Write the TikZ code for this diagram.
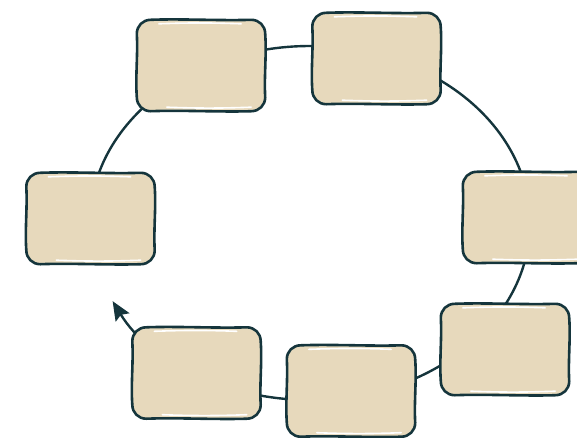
\documentclass[tikz,border=0pt]{standalone}
\usetikzlibrary{arrows.meta}
\definecolor{boxfill}{HTML}{E7D9BC}
\definecolor{ink}{HTML}{15353C}
\newcommand\sketchoutline[1]{%
\draw[outline] ([yshift=-14pt]#1.north west) .. controls ([yshift=-6pt]#1.north west) and ([xshift=6pt]#1.north west) .. ([xshift=14pt]#1.north west)
 .. controls ([xshift=45pt,yshift=1.2pt]#1.north west) and ([xshift=-45pt,yshift=-1pt]#1.north east) .. ([xshift=-14pt]#1.north east)
 .. controls ([xshift=-6pt]#1.north east) and ([yshift=-6pt]#1.north east) .. ([yshift=-14pt]#1.north east)
 .. controls ([xshift=1.5pt,yshift=-35pt]#1.north east) and ([xshift=-1.2pt,yshift=35pt]#1.south east) .. ([yshift=14pt]#1.south east)
 .. controls ([yshift=6pt]#1.south east) and ([xshift=-6pt]#1.south east) .. ([xshift=-14pt]#1.south east)
 .. controls ([xshift=-45pt,yshift=-1pt]#1.south east) and ([xshift=45pt,yshift=1.2pt]#1.south west) .. ([xshift=14pt]#1.south west)
 .. controls ([xshift=6pt]#1.south west) and ([yshift=6pt]#1.south west) .. ([yshift=14pt]#1.south west)
 .. controls ([xshift=-1.5pt,yshift=35pt]#1.south west) and ([xshift=1.2pt,yshift=-35pt]#1.north west) .. cycle;}
\begin{document}
\begin{tikzpicture}[x=1pt,y=-1pt,
  sketchbox/.style={fill=boxfill, rounded corners=13pt,
    minimum width=128pt, minimum height=91pt, inner sep=0pt},
  outline/.style={draw=ink, line width=2.6pt, line join=round},
  hl/.style={draw=white, line width=1.6pt, line cap=round},
  cycleline/.style={draw=ink, line width=2.4pt}]
\useasboundingbox (0,0) rectangle (577,437);
% cycle arc (ellipse) behind the boxes
\draw[cycleline, -{Stealth[length=19pt,width=16pt,inset=3pt]}]
  (310,223) ++(180:220 and 177) arc[start angle=180, end angle=513.8, x radius=220, y radius=177];
% boxes
\node[sketchbox] (b1) at (201,65.5) {};
\node[sketchbox] (b2) at (376.5,58.5) {};
\node[sketchbox] (b3) at (527,217.5) {};
\node[sketchbox] (b4) at (505,349.5) {};
\node[sketchbox] (b5) at (351,391) {};
\node[sketchbox] (b6) at (196.5,373) {};
\node[sketchbox] (b7) at (90.5,218.5) {};
% hand-drawn highlights and outlines
\foreach \n in {b1,b2,b3,b4,b5,b6,b7}{
  \draw[hl] ([xshift=22pt,yshift=-4pt]\n.north west) to[bend left=2] ([xshift=-24pt,yshift=-4pt]\n.north east);
  \draw[hl] ([xshift=30pt,yshift=4pt]\n.south west) to[bend right=2] ([xshift=-14pt,yshift=4pt]\n.south east);
  \sketchoutline{\n}
}
\end{tikzpicture}
\end{document}
